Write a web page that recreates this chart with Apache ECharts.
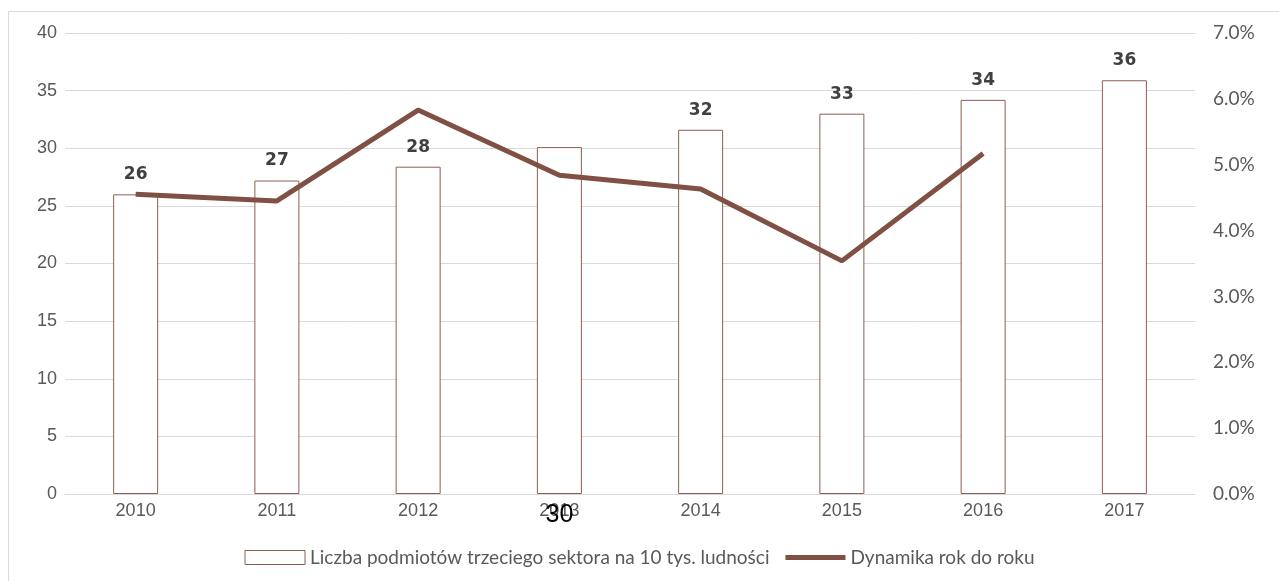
<!DOCTYPE html>
<html>
<head>
<meta charset="utf-8">
<script src="https://cdn.jsdelivr.net/npm/echarts@6/dist/echarts.min.js"></script>
<style>
  html, body { margin: 0; padding: 0; background: #fff; }
  #chart { width: 1279px; height: 581px; }
</style>
</head>
<body>
<div id="chart"></div>
<script>
// lata (oś X)
var years = ['2010', '2011', '2012', '2013', '2014', '2015', '2016', '2017'];
// liczba podmiotów na 10 tys. ludności
var counts = [26.0, 27.2, 28.4, 30.1, 31.6, 33.0, 34.2, 35.9];
// dynamika r/r (ułamek), brak dla 2017
var dynamics = [0.0455, 0.0445, 0.0583, 0.0484, 0.0463, 0.0354, 0.0517, null];
var leftTicks = { min: 0, max: 40, interval: 5 };
var rightTicks = { min: 0, max: 0.07, interval: 0.01 };

var barName = 'Liczba podmiotów trzeciego sektora na 10 tys. ludności';
var lineName = 'Dynamika rok do roku';
var brown = '#7f5043';
var barBorder = '#8e5d51';
var txt = '#595959';

var myChart = echarts.init(document.getElementById('chart'));

var barData = counts.map(function (v, i) {
  var item = { value: v };
  // etykieta 2013 przesunięta pod oś, jak w oryginale
  if (years[i] === '2013') {
    item.label = {
      position: ['50%', '100%'],
      align: 'center',
      verticalAlign: 'middle',
      offset: [0, 21],
      fontSize: 25,
      fontWeight: 'normal',
      fontFamily: 'Liberation Sans',
      color: '#000'
    };
  }
  return item;
});

myChart.setOption({
  animation: false,
  graphic: [{
    type: 'rect',
    shape: { x: 8.5, y: 11.5, width: 1300, height: 620 },
    style: { fill: 'none', stroke: '#d9d9d9', lineWidth: 1 },
    silent: true
  }],
  grid: { left: 65, right: 84, top: 33, bottom: 87 },
  legend: {
    left: 'center',
    top: 543,
    itemWidth: 60,
    itemHeight: 14,
    itemGap: 16,
    textStyle: { color: txt, fontSize: 19, fontFamily: 'Lato' },
    data: [
      { name: barName, icon: 'rect', itemStyle: { color: '#fff', borderColor: barBorder, borderWidth: 1 } },
      { name: lineName, icon: 'path://M0,0 L60,0 L60,5 L0,5 Z', itemStyle: { color: brown, borderWidth: 0 } }
    ]
  },
  xAxis: {
    type: 'category',
    data: years,
    axisLine: { lineStyle: { color: '#d9d9d9', width: 1 } },
    axisTick: { show: false },
    axisLabel: { color: txt, fontSize: 18, fontFamily: 'Liberation Sans', margin: 8 }
  },
  yAxis: [{
    type: 'value',
    min: leftTicks.min,
    max: leftTicks.max,
    interval: leftTicks.interval,
    axisLine: { show: false },
    axisTick: { show: false },
    splitLine: { lineStyle: { color: '#d9d9d9', width: 1 } },
    axisLabel: { color: txt, fontSize: 18, fontFamily: 'Liberation Sans', margin: 8 }
  }, {
    type: 'value',
    min: rightTicks.min,
    max: rightTicks.max,
    interval: rightTicks.interval,
    axisLine: { show: false },
    axisTick: { show: false },
    splitLine: { show: false },
    axisLabel: {
      color: txt, fontSize: 19, fontFamily: 'Lato', margin: 18,
      formatter: function (v) { return (v * 100).toFixed(1) + '%'; }
    }
  }],
  series: [{
    name: barName,
    type: 'bar',
    data: barData,
    barWidth: 45,
    itemStyle: { color: '#fff', borderColor: barBorder, borderWidth: 1 },
    label: {
      show: true,
      position: 'top',
      distance: 11,
      fontSize: 17,
      fontWeight: 'bold',
      fontFamily: 'DejaVu Sans',
      color: '#404040',
      formatter: function (p) { return Math.round(p.value); }
    }
  }, {
    name: lineName,
    type: 'line',
    yAxisIndex: 1,
    data: dynamics,
    symbol: 'none',
    lineStyle: { color: brown, width: 5, cap: 'butt' },
    itemStyle: { color: brown }
  }]
});
</script>
</body>
</html>
